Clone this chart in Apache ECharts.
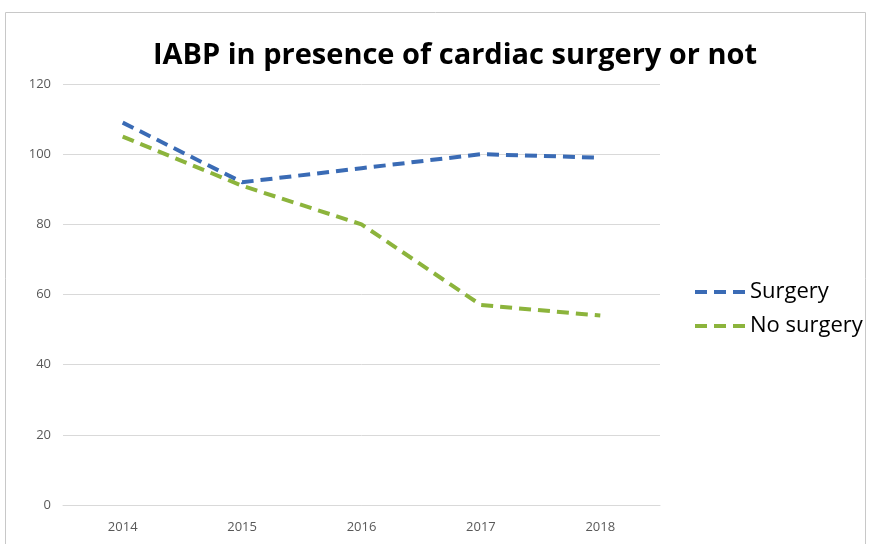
<!DOCTYPE html>
<html><head><meta charset="utf-8">
<script src="https://cdn.jsdelivr.net/npm/echarts@6/dist/echarts.min.js"></script>
<style>html,body{margin:0;padding:0;background:#fff}#c{width:875px;height:544px}</style>
</head><body><div id="c"></div>
<script>
var years = ['2014','2015','2016','2017','2018'];
var surgery = [109, 92, 96, 100, 99];
var noSurgery = [105, 91, 80, 57, 54];
var yTicks = [0, 20, 40, 60, 80, 100, 120];

var chart = echarts.init(document.getElementById('c'));
chart.setOption({
  animation: false,
  backgroundColor: '#fff',
  title: {
    text: 'IABP in presence of cardiac surgery or not',
    left: 450, top: 36, textAlign: 'center',
    textStyle: {fontFamily: 'Open Sans', fontWeight: 'bold', fontSize: 29, color: '#000'}
  },
  graphic: [{type: 'rect', shape: {x: 5.5, y: 12.5, width: 860, height: 560}, style: {fill: 'none', stroke: '#c8c8c8', lineWidth: 1}, silent: true}],
  legend: {
    orient: 'vertical', left: 690, top: 276, itemWidth: 50, itemHeight: 4, itemGap: 12,
    textStyle: {fontFamily: 'Open Sans', fontSize: 22, color: '#000'},
    data: [{name: 'Surgery', icon: 'path://M0,0h12v4h-12z M19,0h12v4h-12z M38,0h12v4h-12z'}, {name: 'No surgery', icon: 'path://M0,0h12v4h-12z M19,0h12v4h-12z M38,0h12v4h-12z'}]
  },
  grid: {left: 63, right: 215, top: 84, bottom: 39, containLabel: false},
  xAxis: {
    type: 'category', data: years, boundaryGap: true,
    axisLine: {lineStyle: {color: '#d9d9d9', width: 1}}, axisTick: {show: false},
    axisLabel: {color: '#595959', fontFamily: 'Open Sans', fontSize: 13, margin: 16}
  },
  yAxis: {
    type: 'value', min: 0, max: 120, interval: 20,
    axisLine: {show: false}, axisTick: {show: false},
    splitLine: {lineStyle: {color: '#d9d9d9', width: 1}},
    axisLabel: {color: '#595959', fontFamily: 'Open Sans', fontSize: 13, margin: 12,
      formatter: function(v){ return yTicks.indexOf(v) >= 0 ? String(v) : ''; }}
  },
  series: [
    {name: 'Surgery', type: 'line', data: surgery, symbol: 'none', color: '#3a6bb5',
     lineStyle: {width: 4, type: [12, 7], color: '#3a6bb5'}},
    {name: 'No surgery', type: 'line', data: noSurgery, symbol: 'none', color: '#8cb43c',
     lineStyle: {width: 4, type: [12, 7], color: '#8cb43c'}}
  ]
});
</script></body></html>
